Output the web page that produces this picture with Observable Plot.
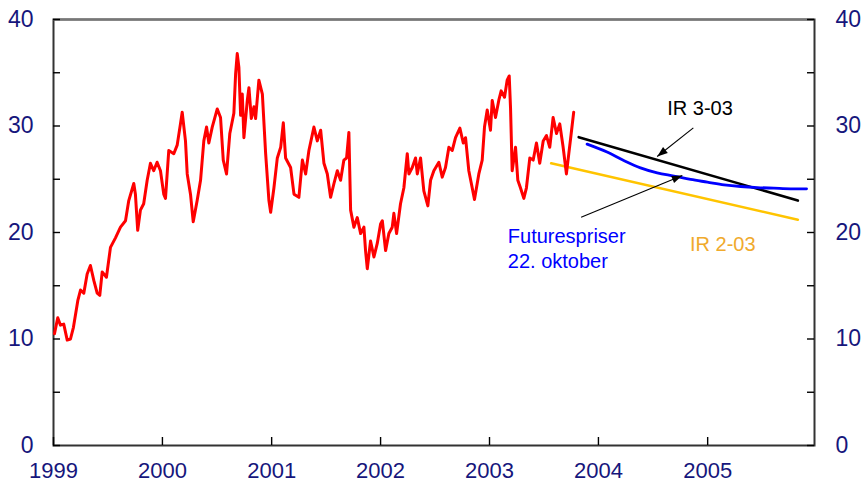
<!DOCTYPE html>
<html><head><meta charset="utf-8">
<script src="https://cdn.jsdelivr.net/npm/d3@7"></script>
<script src="https://cdn.jsdelivr.net/npm/@observablehq/plot@0.6"></script>
<style>body{margin:0;background:#fff}</style>
</head><body><div id="chart"></div>
<script>
// Spot oil price (decimal year, USD/barrel)
const spot = [
[1999.009,10.5],[1999.039,12.0],[1999.064,11.3],[1999.094,11.4],[1999.126,9.9],[1999.156,10.0],[1999.183,11.1],
[1999.223,13.6],[1999.248,14.6],[1999.278,14.3],[1999.309,16.1],[1999.339,16.9],[1999.370,15.5],[1999.401,14.3],
[1999.425,14.1],[1999.447,16.3],[1999.486,15.8],[1999.523,18.6],[1999.569,19.5],[1999.615,20.5],[1999.661,21.1],
[1999.691,23.0],[1999.737,24.6],[1999.752,23.6],[1999.773,20.2],[1999.798,22.1],[1999.828,22.7],[1999.860,24.9],
[1999.890,26.5],[1999.920,25.8],[1999.951,26.6],[1999.982,25.8],[2000.012,23.6],[2000.028,23.2],[2000.058,27.7],
[2000.104,27.4],[2000.135,28.2],[2000.165,30.2],[2000.181,31.3],[2000.211,28.6],[2000.227,25.5],[2000.257,23.6],
[2000.282,21.0],[2000.318,23.0],[2000.349,24.9],[2000.379,28.6],[2000.404,29.9],[2000.425,28.4],[2000.456,29.9],
[2000.502,31.6],[2000.532,30.8],[2000.557,26.8],[2000.587,25.5],[2000.617,29.3],[2000.654,31.2],[2000.670,34.9],
[2000.685,36.8],[2000.700,35.5],[2000.716,31.0],[2000.731,33.0],[2000.746,28.9],[2000.777,32.4],[2000.792,33.6],
[2000.814,30.7],[2000.838,31.8],[2000.853,30.7],[2000.883,34.3],[2000.915,33.0],[2000.945,27.4],[2000.975,23.0],
[2000.991,21.9],[2001.021,24.2],[2001.052,27.0],[2001.083,28.0],[2001.107,30.3],[2001.128,27.0],[2001.174,26.1],
[2001.205,23.6],[2001.250,23.3],[2001.282,26.8],[2001.312,25.5],[2001.342,27.7],[2001.388,29.9],[2001.419,28.6],
[2001.450,29.6],[2001.480,26.5],[2001.511,25.5],[2001.541,23.3],[2001.572,24.6],[2001.603,25.8],[2001.633,24.9],
[2001.663,26.8],[2001.688,27.0],[2001.709,29.4],[2001.725,22.1],[2001.755,20.5],[2001.786,21.4],[2001.817,19.9],
[2001.847,20.5],[2001.862,18.3],[2001.878,16.6],[2001.908,19.2],[2001.939,17.7],[2001.970,19.0],[2002.000,20.8],
[2002.016,21.1],[2002.046,18.3],[2002.076,19.9],[2002.107,20.5],[2002.122,21.8],[2002.147,19.9],[2002.183,22.7],
[2002.214,24.2],[2002.245,27.4],[2002.260,25.5],[2002.291,26.1],[2002.321,27.0],[2002.337,25.5],[2002.367,27.0],
[2002.397,23.9],[2002.434,22.5],[2002.459,24.9],[2002.489,25.8],[2002.535,26.6],[2002.566,25.2],[2002.596,26.1],
[2002.627,28.0],[2002.658,27.7],[2002.688,28.9],[2002.728,29.8],[2002.759,28.4],[2002.780,28.9],[2002.810,25.8],
[2002.841,24.2],[2002.862,23.1],[2002.902,25.5],[2002.933,26.8],[2002.954,29.9],[2002.979,31.5],[2003.009,29.6],
[2003.025,32.4],[2003.055,30.8],[2003.085,32.4],[2003.107,33.3],[2003.138,32.7],[2003.162,34.3],[2003.181,34.7],
[2003.193,31.7],[2003.208,25.8],[2003.239,28.0],[2003.260,24.9],[2003.284,24.2],[2003.315,23.2],[2003.339,24.2],
[2003.370,27.0],[2003.401,26.8],[2003.431,28.4],[2003.461,26.5],[2003.493,28.6],[2003.523,29.1],[2003.553,28.0],
[2003.584,30.8],[2003.615,29.3],[2003.645,30.2],[2003.676,28.0],[2003.706,25.5],[2003.728,27.4],[2003.750,29.3],
[2003.773,31.3]
];
// Futures prices 22 October
const futures = [
[2003.896,28.3],[2004.079,27.55],[2004.232,26.76],[2004.385,26.07],[2004.538,25.6],[2004.691,25.3],[2004.844,24.98],
[2004.997,24.73],[2005.150,24.48],[2005.303,24.32],[2005.456,24.22],[2005.608,24.16],[2005.761,24.1],[2005.908,24.1]
];
// Inflation report assumptions
const ir303 = [[2003.819,28.95],[2005.828,23.0]];
const ir203 = [[2003.566,26.5],[2005.828,21.2]];

const yTicks = [0,5,10,15,20,25,30,35,40];
const yLabels = [0,10,20,30,40];
const xYears = [1999,2000,2001,2002,2003,2004,2005];

const labels = [
  {x:2004.630, y:30.99, text:"IR 3-03", color:"#000000"},
  {x:2003.168, y:16.62, text:"Futurespriser\n22. oktober", color:"#0000ff"},
  {x:2004.838, y:18.24, text:"IR 2-03", color:"#f0aa2c"}
];
const arrows = [
  {x1:2004.869, y1:29.83, x2:2004.538, y2:27.14},
  {x1:2003.841, y1:21.44, x2:2004.768, y2:25.35}
];

const toDate = y => {
  const yr = Math.floor(y);
  const a = Date.UTC(yr,0,1), b = Date.UTC(yr+1,0,1);
  return new Date(a + (y-yr)*(b-a));
};
const pts = arr => arr.map(([t,v]) => ({date: toDate(t), value: v}));
const arrowData = arrows.map(a => ({x1: toDate(a.x1), y1: a.y1, x2: toDate(a.x2), y2: a.y2}));
const xDomain = [new Date(Date.UTC(1999,0,1)), new Date(Date.UTC(2005,11,25))];
const yearDates = xYears.map(y => new Date(Date.UTC(y,0,1)));

const navy = "#16167c";
const font = "'Liberation Sans', Arial, Helvetica, sans-serif";

// filled arrow head: tip at origin, pointing up before rotation
const headSymbol = {draw(ctx) { ctx.moveTo(0, 0); ctx.lineTo(-3.8, 10.5); ctx.lineTo(3.8, 10.5); ctx.closePath(); }};

function build(extra) {
  const marks = [
    Plot.frame({stroke: "#333", strokeWidth: 2}),
    Plot.ruleY([40], {stroke: "#777", strokeWidth: 2}),
    Plot.line(pts(ir203), {x: "date", y: "value", stroke: "#ffc400", strokeWidth: 2.6}),
    Plot.line(pts(ir303), {x: "date", y: "value", stroke: "#000", strokeWidth: 2.6}),
    Plot.line(pts(futures), {x: "date", y: "value", stroke: "#0000ff", strokeWidth: 2.8, curve: "monotone-x"}),
    Plot.line(pts(spot), {x: "date", y: "value", stroke: "#ff0000", strokeWidth: 3, strokeLinejoin: "round"}),
    Plot.axisY({ticks: yLabels, anchor: "left", tickSize: 0, tickPadding: 20, fill: navy, fontSize: 23}),
    Plot.axisY({ticks: yLabels, anchor: "right", tickSize: 0, tickPadding: 21, fill: navy, fontSize: 23}),
    Plot.axisX({ticks: yearDates, anchor: "bottom", tickSize: 0, tickPadding: 17,
      fill: navy, fontSize: 22, tickFormat: d => String(d.getUTCFullYear())}),
    Plot.link(arrowData, {x1: "x1", y1: "y1", x2: "x2", y2: "y2", stroke: "#000", strokeWidth: 1.1}),
    ...labels.map(l => Plot.text([{...l, date: toDate(l.x)}], {x: "date", y: "y", text: "text", fill: l.color,
      textAnchor: "start", lineAnchor: "bottom", lineHeight: 1.25, fontSize: 20}))
  ];
  if (extra) marks.push(...extra);
  return Plot.plot({
    width: 866, height: 483,
    marginLeft: 53, marginRight: 52, marginTop: 19, marginBottom: 38,
    style: {fontFamily: font, fontSize: "22px", background: "#fff"},
    x: {type: "utc", domain: xDomain},
    y: {domain: [0, 40]},
    marks
  });
}

// first pass to read the scales, then add inward ticks and arrow heads
const first = build(null);
const sx = first.scale("x"), sy = first.scale("y");
const x0 = sx.apply(xDomain[0]), x1 = sx.apply(xDomain[1]), y0 = sy.apply(0);
const leftTickEnd = sx.invert(x0 + 7), rightTickStart = sx.invert(x1 - 7), xTickTop = sy.invert(y0 - 8);
const angles = arrowData.map(d => {
  const dx = sx.apply(d.x2) - sx.apply(d.x1);
  const dy = sy.apply(d.y2) - sy.apply(d.y1);
  return Math.atan2(dx, -dy) * 180 / Math.PI;
});
const extra = [
  Plot.ruleY(yTicks, {x1: xDomain[0], x2: leftTickEnd, stroke: "#000", strokeWidth: 1.4}),
  Plot.ruleY(yTicks, {x1: rightTickStart, x2: xDomain[1], stroke: "#000", strokeWidth: 1.4}),
  Plot.ruleX(yearDates, {y1: 0, y2: xTickTop, stroke: "#000", strokeWidth: 1.4}),
  Plot.dot(arrowData.map((d, i) => ({...d, angle: angles[i]})),
    {x: "x2", y: "y2", symbol: headSymbol, fill: "#000", stroke: "none", r: 5, rotate: "angle"})
];
document.getElementById("chart").appendChild(build(extra));
</script>
</body></html>
